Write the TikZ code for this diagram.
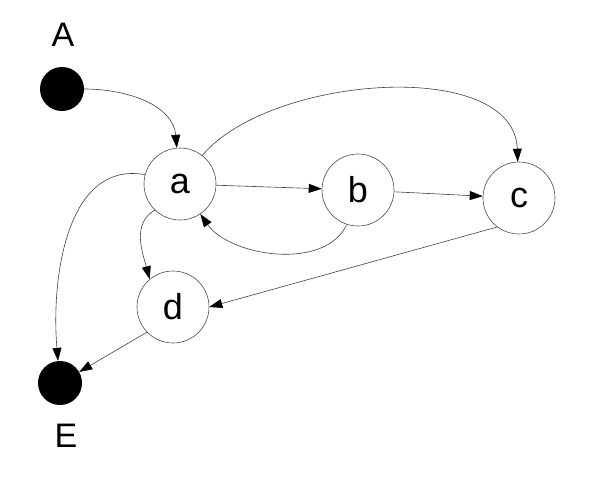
\documentclass[tikz,border=0pt]{standalone}
\usepackage{fontspec}
\setmainfont{Liberation Sans}
\usetikzlibrary{arrows.meta}
\begin{document}
\begin{tikzpicture}[x=1pt,y=-1pt,
  state/.style={circle,draw=black!70,line width=0.6pt,fill=white,minimum size=72pt,inner sep=0pt,font=\fontsize{36}{40}\selectfont},
  term/.style={circle,fill=black,minimum size=44pt,inner sep=0pt},
  lbl/.style={font=\fontsize{34}{40}\selectfont,inner sep=0pt},
  edge/.style={draw=black!75,line width=0.6pt,-{Triangle[length=13pt,width=9pt,black]}}]
\useasboundingbox (0,0) rectangle (602,480);
\node[term] (A) at (62,89) {};
\node[term] (E) at (60,383) {};
\node[lbl] (Al) at (63,35) {A};
\node[lbl] (El) at (66,436) {E};
\node[state] (a) at (180,184) {a};
\node[state] (b) at (358,190) {b};
\node[state] (c) at (519,198) {c};
\node[state] (d) at (173,307) {d};
\draw[edge] (A.0) to[out=0,in=95] (a.95);
\draw[edge] (a.52) to[out=50,in=92,looseness=0.85] (c.92);
\draw[edge] (a) -- (b);
\draw[edge] (b) -- (c);
\draw[edge] (b.-108) to[out=-115,in=-55,looseness=0.9] (a.-56);
\draw[edge] (c.-127) -- (d.0);
\draw[edge] (a.-134) to[out=-150,in=105] (d.130);
\draw[edge] (a.165) to[out=170,in=95] (E.95);
\draw[edge] (d.-136) -- (E.30);
\end{tikzpicture}
\end{document}
